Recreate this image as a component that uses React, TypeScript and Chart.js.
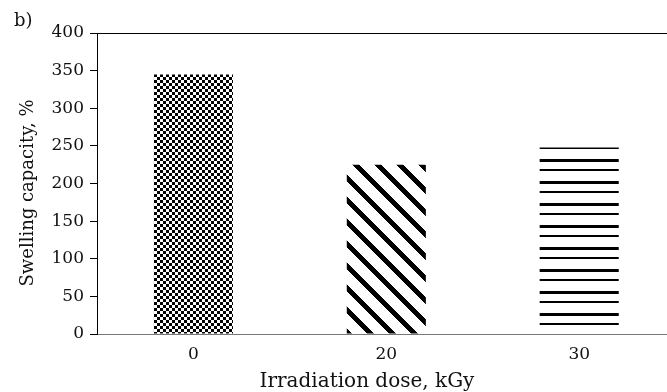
import React, { useEffect, useRef } from 'react';
import { Chart, registerables } from 'chart.js';

Chart.register(...registerables);

const categories = ['0', '20', '30'];
const swellingCapacity = [345, 225, 248];
const yMin = 0;
const yMax = 400;
const yStep = 50;
const panelLabel = 'b)';
const xTitle = 'Irradiation dose, kGy';
const yTitle = 'Swelling capacity, %';

const FONT = 'DejaVu Serif';

function makeTile(w: number, h: number, paint: (x: number, y: number) => boolean) {
  const c = document.createElement('canvas');
  c.width = w;
  c.height = h;
  const ctx = c.getContext('2d')!;
  const img = ctx.createImageData(w, h);
  for (let y = 0; y < h; y++) {
    for (let x = 0; x < w; x++) {
      const v = paint(x, y) ? 0 : 255;
      const i = (y * w + x) * 4;
      img.data[i] = v;
      img.data[i + 1] = v;
      img.data[i + 2] = v;
      img.data[i + 3] = 255;
    }
  }
  ctx.putImageData(img, 0, 0);
  return c;
}

export default function App() {
  const ref = useRef<HTMLCanvasElement | null>(null);

  useEffect(() => {
    const canvas = ref.current!;
    const ctx = canvas.getContext('2d')!;

    const checker = makeTile(6, 6, (x, y) => (Math.floor(x / 3) + Math.floor(y / 3)) % 2 === 0);
    const diagonal = makeTile(22, 22, (x, y) => {
      const m = (((y - x) % 22) + 22) % 22;
      return m >= 10 && m < 17;
    });
    const hlines = makeTile(22, 22, (x, y) => y < 2 || (y >= 12 && y < 15));
    const patterns = [checker, diagonal, hlines].map((t) => ctx.createPattern(t, 'repeat')!);

    const alignPatterns = {
      id: 'alignPatterns',
      beforeDatasetsDraw(chart: any) {
        const meta = chart.getDatasetMeta(0);
        meta.data.forEach((el: any, i: number) => {
          const p = patterns[i];
          if (p && (p as any).setTransform) {
            p.setTransform(new DOMMatrix([1, 0, 0, 1, Math.round(el.x - el.width / 2), Math.round(el.y)]));
          }
        });
      },
    };

    const textPlugin = {
      id: 'textLabels',
      afterDraw(chart: any) {
        const c = chart.ctx;
        c.save();
        c.fillStyle = '#111';
        c.textBaseline = 'alphabetic';
        c.textAlign = 'left';
        c.font = `18px "${FONT}"`;
        c.fillText(panelLabel, 14, 26);

        c.textAlign = 'center';
        c.font = `20px "${FONT}"`;
        c.fillText(xTitle, 367, 387);

        c.translate(33, 193);
        c.rotate(-Math.PI / 2);
        c.font = `18px "${FONT}"`;
        c.fillText(yTitle, 0, 0);
        c.restore();
      },
    };

    const chart = new Chart(canvas, {
      type: 'bar',
      data: {
        datasets: [
          {
            data: swellingCapacity.map((v, i) => ({ x: i, y: v })),
            backgroundColor: patterns as any,
            borderWidth: 0,
            barPercentage: 0.41,
            categoryPercentage: 1,
          },
        ],
      },
      options: {
        responsive: false,
        animation: false,
        devicePixelRatio: 1,
        layout: { padding: { left: 0, right: 1, top: 0, bottom: 0 } },
        plugins: { legend: { display: false }, tooltip: { enabled: false } },
        scales: {
          x: {
            type: 'linear',
            position: 'bottom',
            offset: false,
            min: -0.5,
            max: 2.45,
            afterBuildTicks: (s: any) => {
              s.ticks = categories.map((_, i) => ({ value: i }));
            },
            afterFit: (s: any) => {
              s.height = 58;
            },
            ticks: {
              callback: (v: any) => categories[v] ?? '',
              font: { family: FONT, size: 17 },
              color: '#111',
              padding: 10,
              maxRotation: 0,
            },
            grid: { display: false, drawTicks: false, offset: false },
            border: { color: '#777', width: 1 },
          },
          x2: {
            type: 'linear',
            position: 'top',
            ticks: { display: false },
            grid: { display: false, drawTicks: false },
            border: { color: '#000', width: 1 },
            afterFit: (s: any) => {
              s.height = 33;
            },
          },
          y: {
            min: yMin,
            max: yMax,
            afterFit: (s: any) => {
              s.width = 97;
            },
            ticks: {
              stepSize: yStep,
              font: { family: FONT, size: 17 },
              color: '#111',
              padding: 6,
            },
            grid: { drawOnChartArea: false, drawTicks: true, tickLength: 7, color: '#000' },
            border: { color: '#000', width: 1 },
          },
        },
      },
      plugins: [alignPatterns, textPlugin],
    });

    return () => chart.destroy();
  }, []);

  return (
    <div style={{ position: 'absolute', left: 0, top: 0, width: 667, height: 392, background: '#fff' }}>
      <canvas ref={ref} width={667} height={392} style={{ display: 'block' }} />
    </div>
  );
}
